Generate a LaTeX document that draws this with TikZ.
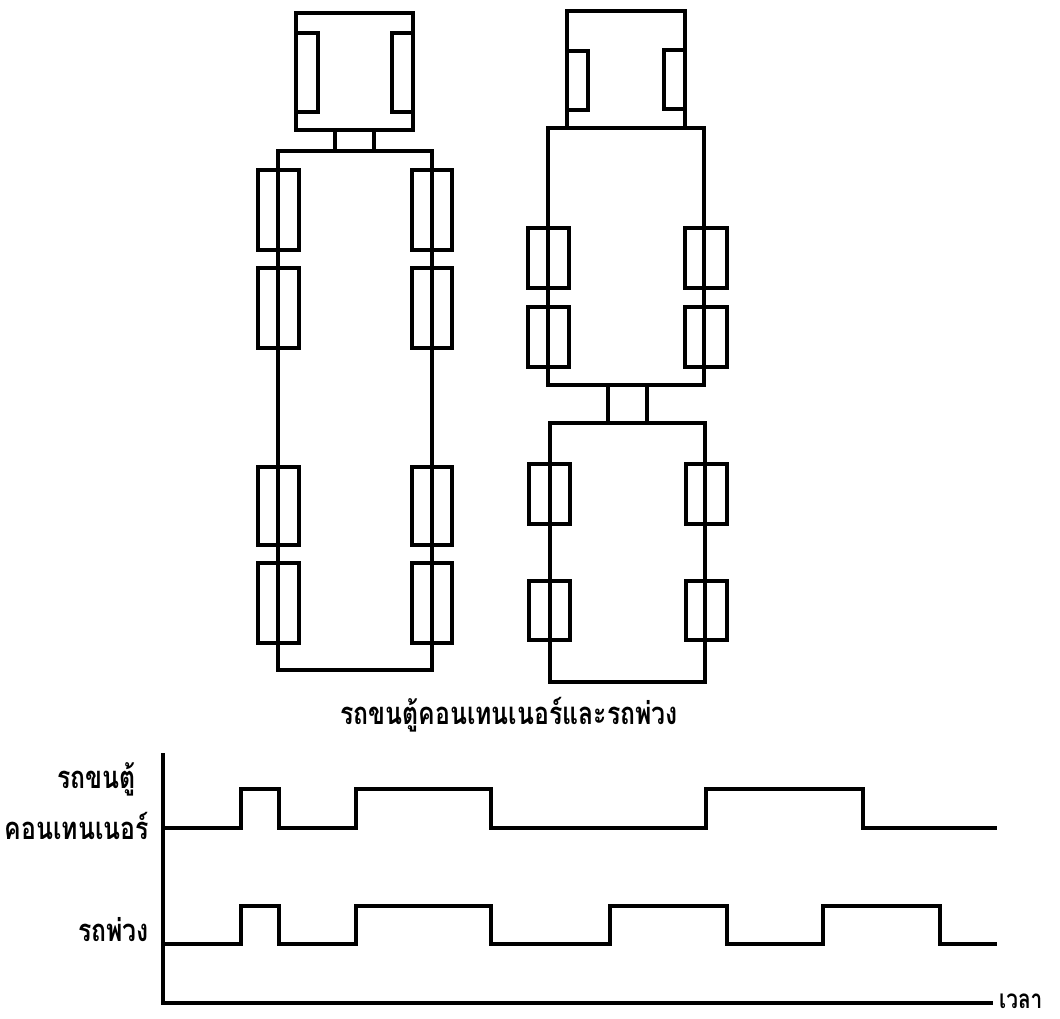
\documentclass[tikz,border=0pt]{standalone}
\usepackage{fontspec}
\newfontfamily\thaifont[Script=Thai,FakeStretch=0.8]{Loma}
\begin{document}
\begin{tikzpicture}[x=1pt,y=-1pt,
  outline/.style={line width=3.2pt,line join=miter,line cap=rect},
  wheel/.style={outline},
  signal/.style={line width=3.2pt,line join=miter},
  lbl/.style={font=\thaifont\bfseries\fontsize{31}{33}\selectfont,inner sep=0pt}]
\useasboundingbox (0,0) rectangle (1060,1018);

% ---------- container truck (tractor + semi-trailer) ----------
\draw[outline] (296,13) rectangle (413,130);            % cab
\draw[wheel] (296,33) rectangle (318,112);
\draw[wheel] (392,33) rectangle (413,112);
\draw[outline] (335,130) -- (335,151) (374,130) -- (374,151); % fifth wheel
\draw[outline] (278,151) rectangle (432,670);           % semi-trailer
\foreach \ya/\yb in {170/250, 268/348, 467/545, 563/643}{
  \draw[wheel] (258,\ya) rectangle (299,\yb);
  \draw[wheel] (412,\ya) rectangle (452,\yb);
}

% ---------- truck with full trailer ----------
\draw[outline] (567,11) -- (567,128) (685,11) -- (685,128) (567,11) -- (685,11); % cab
\draw[wheel] (567,51) rectangle (588,110);
\draw[wheel] (664,50) rectangle (685,109);
\draw[outline] (548,128) rectangle (704,385);           % truck body
\foreach \ya/\yb in {228/288, 307/367}{
  \draw[wheel] (528,\ya) rectangle (569,\yb);
  \draw[wheel] (685,\ya) rectangle (727,\yb);
}
\draw[outline] (608,385) -- (608,423) (647,385) -- (647,423); % drawbar
\draw[outline] (550,423) rectangle (705,682);           % trailer
\foreach \ya/\yb in {464/524, 581/640}{
  \draw[wheel] (529,\ya) rectangle (570,\yb);
  \draw[wheel] (686,\ya) rectangle (727,\yb);
}

\node[lbl,anchor=base] (cap) at (509,724) {รถขนตู้คอนเทนเนอร์และรถพ่วง};

% ---------- timing chart ----------
\draw[signal] (163,753) -- (163,1003) -- (993,1003);
\node[lbl,font=\thaifont\bfseries\fontsize{26}{28}\selectfont,anchor=base west,
  text depth=0pt] (time) at (999,1008) {เวลา};

\node[lbl,anchor=base east] (ct1) at (136,788) {รถขนตู้};
\node[lbl,anchor=base east] (ct2) at (149,839) {คอนเทนเนอร์};
\node[lbl,anchor=base east] (tr) at (149,941) {รถพ่วง};

\draw[signal] (163,828) -- (241,828) -- (241,789) -- (279,789) -- (279,828)
  -- (356,828) -- (356,789) -- (491,789) -- (491,828) -- (706,828)
  -- (706,789) -- (863,789) -- (863,828) -- (997,828);
\draw[signal] (163,944) -- (241,944) -- (241,906) -- (279,906) -- (279,944)
  -- (356,944) -- (356,906) -- (491,906) -- (491,944) -- (610,944)
  -- (610,906) -- (727,906) -- (727,944) -- (823,944) -- (823,906)
  -- (940,906) -- (940,944) -- (997,944);
\end{tikzpicture}
\end{document}
